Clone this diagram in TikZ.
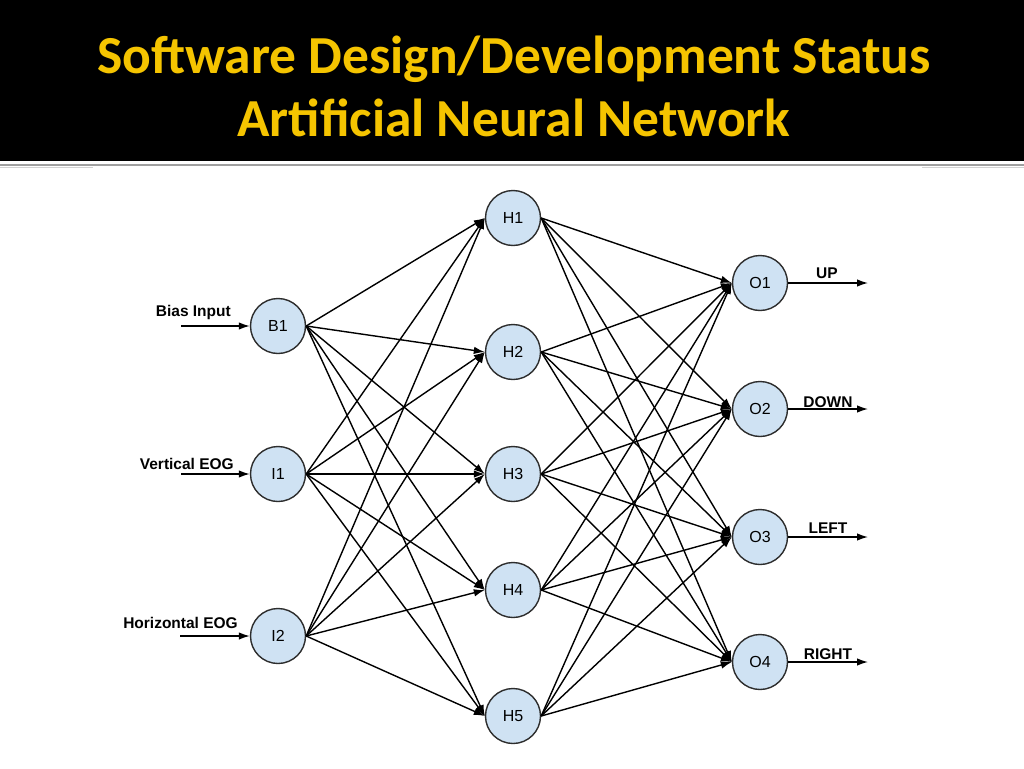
\documentclass[tikz,border=0pt]{standalone}
\usepackage{fontspec}
\setmainfont{Liberation Sans}
\newfontfamily\titlefont{Carlito}
\usetikzlibrary{arrows.meta}
\definecolor{nodeblue}{RGB}{207,226,243}
\definecolor{nodeedge}{RGB}{45,45,45}
\definecolor{titlegold}{RGB}{245,196,0}
\tikzset{
  neuron/.style={circle, minimum size=55pt, inner sep=0pt, fill=nodeblue, draw=nodeedge, line width=1.4pt, font=\fontsize{16}{16}\selectfont},
  link/.style={line width=1.4pt, -{Latex[length=11pt,width=7.5pt]}},
  iolabel/.style={font=\bfseries\fontsize{15.5}{16}\selectfont, inner sep=0pt}
}
\begin{document}
\begin{tikzpicture}[x=1pt,y=-1pt]
\useasboundingbox (0,0) rectangle (1024,768);
\fill[white] (0,0) rectangle (1024,768);
\fill[black] (0,0) rectangle (1024,161);
\draw[gray!75, line width=1.2pt] (0,165) -- (1024,165);
\draw[gray!35, line width=1.5pt] (0,167.5) -- (93,167.5);
\draw[gray!35, line width=1.5pt] (922,167.5) -- (1024,167.5);
\node[text=titlegold, font=\titlefont\bfseries\fontsize{53.5}{56}\selectfont, anchor=base, inner sep=0pt] (t1) at (514,74) {Software Design/Development Status};
\node[text=titlegold, font=\titlefont\bfseries\fontsize{53.5}{56}\selectfont, anchor=base, inner sep=0pt] (t2) at (514,136) {Artificial Neural Network};

% nodes
\node[neuron] (B1) at (278,326) {B1};
\node[neuron] (I1) at (278,474) {I1};
\node[neuron] (I2) at (278,636) {I2};
\node[neuron] (H1) at (513,218) {H1};
\node[neuron] (H2) at (513,352) {H2};
\node[neuron] (H3) at (513,474) {H3};
\node[neuron] (H4) at (513,590) {H4};
\node[neuron] (H5) at (513,716) {H5};
\node[neuron] (O1) at (760,283) {O1};
\node[neuron] (O2) at (760,409) {O2};
\node[neuron] (O3) at (760,537) {O3};
\node[neuron] (O4) at (760,662) {O4};

% inputs
\coordinate (bin) at (181,326);
\coordinate (vin) at (181,474);
\coordinate (hin) at (180,636);
\draw[link] (bin) -- (B1.west);
\draw[link] (vin) -- (I1.west);
\draw[link] (hin) -- (I2.west);
\node[iolabel, anchor=base east] (lb) at (231,316) {Bias Input};
\node[iolabel, anchor=base east] (lv) at (234,469) {Vertical EOG};
\node[iolabel, anchor=base east] (lh) at (238,628) {Horizontal EOG};

% outputs
\coordinate (oup) at (868,283);
\coordinate (odn) at (868,409);
\coordinate (olf) at (868,537);
\coordinate (ort) at (868,662);
\draw[link] (O1.east) -- (oup);
\draw[link] (O2.east) -- (odn);
\draw[link] (O3.east) -- (olf);
\draw[link] (O4.east) -- (ort);
\node[iolabel, anchor=base] (lu) at (827,278) {UP};
\node[iolabel, anchor=base] (ld) at (828,407) {DOWN};
\node[iolabel, anchor=base] (ll) at (828,533) {LEFT};
\node[iolabel, anchor=base] (lr) at (828,659) {RIGHT};

% connections
\foreach \s in {B1,I1,I2}
  \foreach \t in {H1,H2,H3,H4,H5}
    \draw[link] (\s.east) -- (\t.west);
\foreach \s in {H1,H2,H3,H4,H5}
  \foreach \t in {O1,O2,O3,O4}
    \draw[link] (\s.east) -- (\t.west);
\end{tikzpicture}
\end{document}
